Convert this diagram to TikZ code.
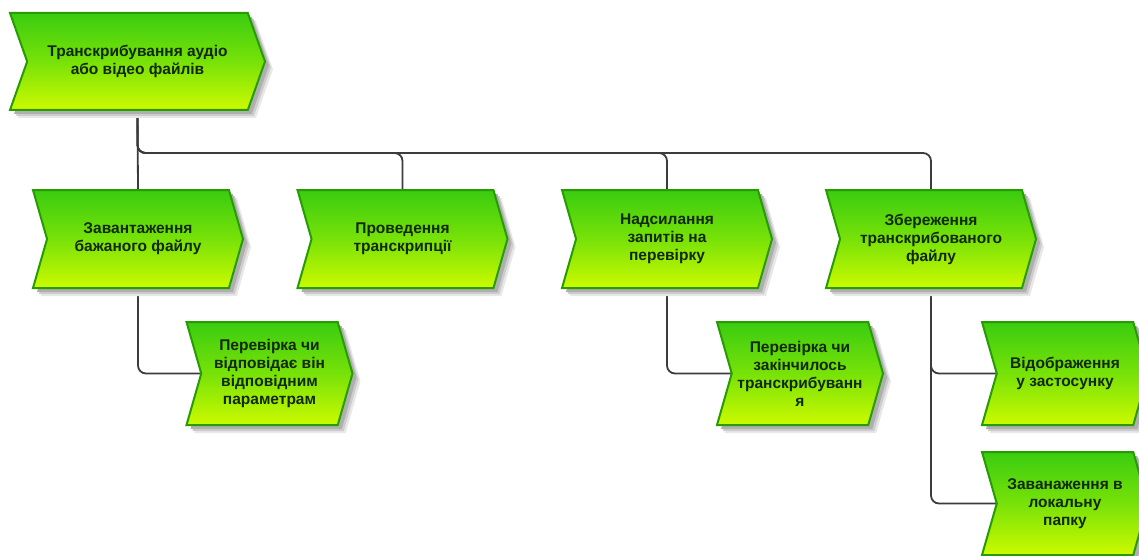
\documentclass[tikz,border=0pt]{standalone}
\usepackage{fontspec}
\setmainfont{Liberation Sans}
\usetikzlibrary{shapes.symbols,backgrounds}

\definecolor{fnTop}{RGB}{58,204,16}
\definecolor{fnMid}{RGB}{120,226,8}
\definecolor{fnBot}{RGB}{204,250,0}
\definecolor{fnEdge}{RGB}{38,156,0}
\definecolor{fnText}{RGB}{18,40,0}
\definecolor{linkGrey}{RGB}{60,60,60}
\definecolor{shA}{RGB}{232,232,232}
\definecolor{shB}{RGB}{205,205,205}
\definecolor{shC}{RGB}{175,175,175}

\tikzset{
  fnshape/.style={signal, signal to=east, signal from=west,
    signal pointer angle=148, inner sep=0pt},
  georoot/.style={fnshape, minimum width=255pt, minimum height=97pt,
    signal pointer angle=141},
  geotwo/.style={fnshape, minimum width=210pt, minimum height=98pt},
  geothree/.style={fnshape, minimum width=166pt, minimum height=103pt},
  fnlook/.style={draw=fnEdge, line width=2pt,
    top color=fnTop, bottom color=fnBot, middle color=fnMid,
    align=center, font=\bfseries\fontsize{15.5}{18}\selectfont, text=fnText},
  shadeA/.style={fill=shA, draw=none, xshift=8pt, yshift=-8pt},
  shadeB/.style={fill=shB, draw=none, xshift=6pt, yshift=-6pt},
  shadeC/.style={fill=shC, draw=none, xshift=4pt, yshift=-4pt},
  conn/.style={draw=linkGrey, line width=1.8pt, rounded corners=8pt},
}

% a function box: soft grey shadow layers, then the shaded chevron
\newcommand{\fnbox}[4]{%
  \node[#1, shadeA] (#2-sa) at #3 {};
  \node[#1, shadeB] (#2-sb) at #3 {};
  \node[#1, shadeC] (#2-sc) at #3 {};
  \node[#1, fnlook] (#2) at #3 {#4};
}

\begin{document}
\begin{tikzpicture}[x=1pt, y=-1pt]
  \useasboundingbox (0,0) rectangle (1139,556);

  % root function
  \fnbox{georoot}{root}{(137.5,61.5)}{Транскрибування аудіо\\або відео файлів}

  % second level
  \fnbox{geotwo}{load}{(138,239)}{Завантаження\\бажаного файлу}
  \fnbox{geotwo}{trans}{(402.5,239)}{Проведення\\транскрипції}
  \fnbox{geotwo}{send}{(667,239)}{Надсилання\\запитів на\\перевірку}
  \fnbox{geotwo}{save}{(931,239)}{Збереження\\транскрибованого\\файлу}

  % third level
  \fnbox{geothree}{check}{(269.5,373.5)}{Перевірка чи\\відповідає він\\відповідним\\параметрам}
  \fnbox{geothree}{done}{(800,373.5)}{Перевірка чи\\закінчилось\\транскрибуванн\\я}
  \fnbox{geothree}{show}{(1065,373.5)}{Відображення\\у застосунку}
  \fnbox{geothree}{store}{(1065,503.5)}{Заванаження в\\локальну\\папку}

  % bus between root and second level
  \coordinate (bus) at (0,153);

  \begin{scope}[on background layer]
    \draw[conn] (root.south) -- (load.north);
    \draw[conn] (root.south) -- (root.south |- bus) -- (trans.north |- bus) -- (trans.north);
    \draw[conn] (root.south) -- (root.south |- bus) -- (send.north |- bus) -- (send.north);
    \draw[conn] (root.south) -- (root.south |- bus) -- (save.north |- bus) -- (save.north);

    % third level links
    \draw[conn] (load.south) |- (check.center);
    \draw[conn] (send.south) |- (done.center);
    \draw[conn] (save.south) |- (show.center);
    \draw[conn] (save.south) |- (store.center);
  \end{scope}
\end{tikzpicture}
\end{document}
